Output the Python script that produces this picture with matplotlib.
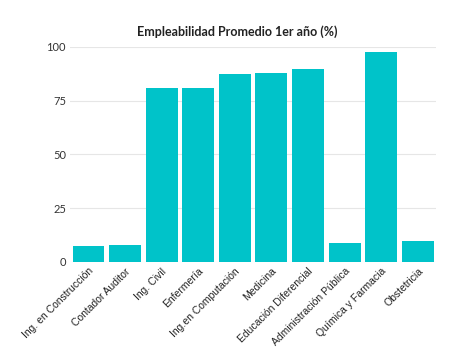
import matplotlib
matplotlib.use("Agg")
import matplotlib.pyplot as plt

carreras = ["Ing. en Construcción", "Contador Auditor", "Ing. Civil", "Enfermería",
            "Ing.en Computación", "Medicina", "Educación Diferencial",
            "Administración Pública", "Química y Farmacia", "Obstetricia"]
empleabilidad = [7.6, 7.8, 81, 81, 87.3, 87.7, 89.5, 8.7, 97.5, 9.6]
yticks = [0, 25, 50, 75, 100]

fig = plt.figure(figsize=(4.74, 3.55), dpi=100)
ax = fig.add_axes([0.148, 0.262, 0.772, 0.606])

ax.bar(range(len(carreras)), empleabilidad, width=0.87, color="#00C3C9", zorder=3)

ax.set_xlim(-0.5, len(carreras) - 0.5)
ax.set_ylim(0, 100)
ax.set_yticks(yticks)
ax.set_yticklabels([str(v) for v in yticks], fontsize=8, family="Lato", color="#333333")
ax.set_xticks(range(len(carreras)))
ax.set_xticklabels(carreras, rotation=45, ha="right", rotation_mode="anchor",
                   fontsize=7.5, family="Liberation Sans", color="#222222")
ax.tick_params(axis="both", length=0, pad=3)
ax.grid(axis="y", color="#e6e6e6", linewidth=0.8, zorder=0)
for s in ax.spines.values():
    s.set_visible(False)

fig.text(0.5, 1 - 32 / 355, "Empleabilidad Promedio 1er año (%)", fontsize=9,
         family="Lato", weight="bold", color="#222222", ha="center", va="center")

fig.savefig("out.png", dpi=100)
